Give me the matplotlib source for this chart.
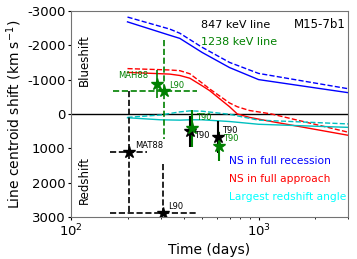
import numpy as np
import matplotlib
matplotlib.use("Agg")
import matplotlib.pyplot as plt

plt.rcParams['axes.unicode_minus'] = False

# model curves (time in days, shift in km/s, negative = blueshift)
t_model = [200, 336, 380, 500, 700, 1000, 3000]
recession_solid = [-2680, -2290, -2200, -1790, -1350, -1000, -620]
recession_dash = [-2820, -2470, -2350, -1940, -1500, -1180, -735]

t_red = [200, 336, 380, 430, 500, 548, 621, 700, 770, 895, 1000, 1170, 3000]
approach_solid = [-1210, -1160, -1120, -1040, -820, -680, -440, -210, 0, 100, 150, 220, 620]
approach_dash = [-1320, -1280, -1260, -1170, -900, -730, -520, -320, -210, -100, -60, 0, 530]

t_cyan = [200, 300, 380, 430, 500, 700, 1000, 3000]
angle_solid = [110, 170, 180, 170, 170, 220, 300, 390]
angle_dash = [100, 30, -60, -90, -80, 10, 180, 290]

# observations: 847 keV (black)
b_t = [204, 308]
b_v = [1100, 2880]
b_xlo = [161, 161]
b_xhi = [254, 462]
b_ylo = [-680, 1470]
b_yhi = [2880, 4200]
b_lab = ["MAT88", "L90"]

b_t90_t = [430, 605]
b_t90_v = [500, 670]
b_t90_err = [450, 470]

# 1238 keV (green)
g_mah_t, g_mah_v, g_mah_lo, g_mah_hi = 286, -880, -1270, -470
g_l90_t, g_l90_v = 312, -680
g_l90_xlo, g_l90_xhi = 167, 468
g_l90_ylo, g_l90_yhi = -2150, 740

g_t90_t = [440, 613]
g_t90_v = [420, 940]
g_t90_err = [540, 420]

yticks = [-3000, -2000, -1000, 0, 1000, 2000, 3000]
yticklabels = ["-3000", "-2000", "-1000", "0", "1000", "2000", "3000"]

fig = plt.figure(figsize=(3.57, 2.59), dpi=100)
ax = fig.add_axes([0.199, 0.162, 0.776, 0.796])

ax.axhline(0, color='k', lw=1)

ax.plot(t_model, recession_solid, color='blue', lw=1)
ax.plot(t_model, recession_dash, color='blue', lw=1, ls='--')
ax.plot(t_red, approach_solid, color='red', lw=1)
ax.plot(t_red, approach_dash, color='red', lw=1, ls='--')
ax.plot(t_cyan, angle_solid, color='c', lw=1)
ax.plot(t_cyan, angle_dash, color='c', lw=1, ls='--')

# 847 keV dashed error bars
for t, v, xl, xh, yl, yh, lab in zip(b_t, b_v, b_xlo, b_xhi, b_ylo, b_yhi, b_lab):
    eb = ax.errorbar(t, v, xerr=[[t - xl], [xh - t]], yerr=[[v - yl], [yh - v]],
                     fmt='*', color='k', ms=9, lw=1.2)
    eb[-1][0].set_linestyle('--')
    eb[-1][1].set_linestyle('--')
    ax.annotate(lab, (t, v), xytext=(4, 3), textcoords='offset points', fontsize=6)

# 1238 keV L90
eb = ax.errorbar(g_l90_t, g_l90_v, xerr=[[g_l90_t - g_l90_xlo], [g_l90_xhi - g_l90_t]],
                 yerr=[[g_l90_v - g_l90_ylo], [g_l90_yhi - g_l90_v]],
                 fmt='*', color='green', ms=9, lw=1.2)
eb[-1][0].set_linestyle('--')
eb[-1][1].set_linestyle('--')
ax.annotate("L90", (g_l90_t, g_l90_v), xytext=(4, 2), textcoords='offset points',
            fontsize=6, color='green')

# MAH88
ax.errorbar(g_mah_t, g_mah_v, yerr=[[g_mah_v - g_mah_lo], [g_mah_hi - g_mah_v]],
            fmt='*', color='green', ms=9, lw=1.2)
ax.annotate("MAH88", (g_mah_t, g_mah_v), xytext=(-28, 4), textcoords='offset points',
            fontsize=6, color='green')

# T90 points
ax.errorbar(b_t90_t, b_t90_v, yerr=b_t90_err, fmt='*', color='k', ms=9, lw=1.5)
ax.errorbar(g_t90_t, g_t90_v, yerr=g_t90_err, fmt='*', color='green', ms=9, lw=1.5)
ax.annotate("T90", (b_t90_t[0], b_t90_v[0]), xytext=(3, -5), textcoords='offset points', fontsize=6)
ax.annotate("T90", (b_t90_t[1], b_t90_v[1]), xytext=(3, 3), textcoords='offset points', fontsize=6)
ax.annotate("T90", (g_t90_t[0], g_t90_v[0]), xytext=(3, 6), textcoords='offset points',
            fontsize=6, color='green')
ax.annotate("T90", (g_t90_t[1], g_t90_v[1]), xytext=(3, 4), textcoords='offset points',
            fontsize=6, color='green')

ax.set_xscale('log')
ax.set_xlim(100, 3000)
ax.set_ylim(3000, -3000)
ax.set_yticks(yticks)
ax.set_yticklabels(yticklabels)
ax.tick_params(which='major', labelsize=9.5, length=2.5, pad=1.5)
ax.tick_params(which='minor', length=1.5)
for s in ax.spines.values():
    s.set_color('0.45')

ax.set_xlabel("Time (days)", fontsize=10, labelpad=3)
ax.set_ylabel("Line centroid shift (km s$^{-1}$)", fontsize=10, labelpad=2)

ax.text(0.47, 0.915, "847 keV line", transform=ax.transAxes, fontsize=8)
ax.text(0.47, 0.835, "1238 keV line", transform=ax.transAxes, fontsize=8, color='green')
ax.text(0.99, 0.915, "M15-7b1", transform=ax.transAxes, fontsize=8.5, ha='right')
ax.text(0.57, 0.255, "NS in full recession", transform=ax.transAxes, fontsize=7.7, color='blue')
ax.text(0.57, 0.17, "NS in full approach", transform=ax.transAxes, fontsize=7.7, color='red')
ax.text(0.57, 0.085, "Largest redshift angle", transform=ax.transAxes, fontsize=7.7, color='cyan')
ax.text(0.025, 0.76, "Blueshift", transform=ax.transAxes, fontsize=8.5, rotation=90, va='center')
ax.text(0.025, 0.18, "Redshift", transform=ax.transAxes, fontsize=8.5, rotation=90, va='center')

fig.savefig("out.png", dpi=100)
